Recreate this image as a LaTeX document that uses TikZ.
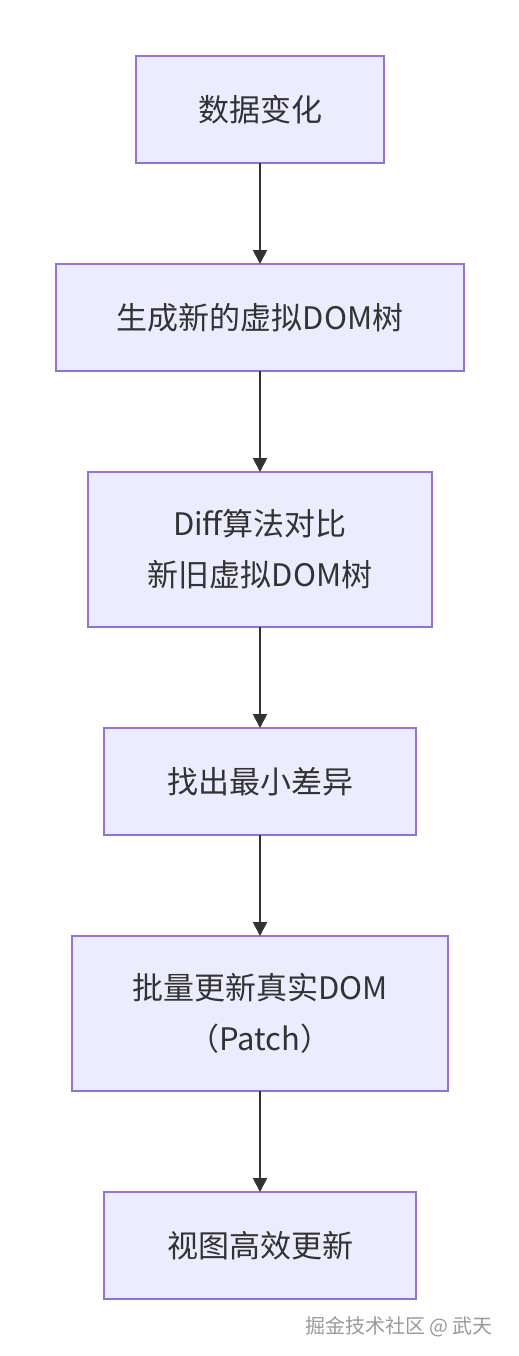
\documentclass[tikz,border=0pt]{standalone}
\usepackage{fontspec}
\setmainfont{Noto Sans CJK SC}
\usepackage{tikz}
\usetikzlibrary{positioning,arrows.meta}
\definecolor{boxFill}{HTML}{ECECFF}
\definecolor{boxLine}{HTML}{9370DB}
\definecolor{inkGray}{HTML}{333333}
\definecolor{markGray}{HTML}{9A9A9A}

\begin{document}
\begin{tikzpicture}[
                x=0.5pt, y=-0.5pt,
                node distance=50.5pt,
                flowbox/.style={fill=boxFill, draw=boxLine, line width=1pt,
                                minimum height=53.5pt, align=center, text=inkGray,
                                font=\fontsize{15.5pt}{25.5pt}\selectfont,
                                inner sep=0pt, outer sep=0pt},
                flowarrow/.style={draw=inkGray, line width=1pt,
                                  -{Triangle[length=7pt,width=7pt]}}
            ]
                \useasboundingbox[fill=white] (0,0) rectangle (519,1356);
                \node[flowbox, minimum width=124pt] (change) at (260,109.5) {数据变化};
                \node[flowbox, minimum width=204pt, below=of change] (newvdom) {生成新的虚拟DOM树};
                \node[flowbox, minimum width=172pt, minimum height=77.5pt, below=of newvdom] (diff) {Diff算法对比\\新旧虚拟DOM树};
                \node[flowbox, minimum width=156pt, below=of diff] (mindiff) {找出最小差异};
                \node[flowbox, minimum width=188pt, minimum height=77.5pt, below=of mindiff] (patch) {批量更新真实DOM\\（Patch）};
                \node[flowbox, minimum width=156pt, below=of patch] (view) {视图高效更新};
                \draw[flowarrow] (change) -- (newvdom);
                \draw[flowarrow] (newvdom) -- (diff);
                \draw[flowarrow] (diff) -- (mindiff);
                \draw[flowarrow] (mindiff) -- (patch);
                \draw[flowarrow] (patch) -- (view);
                \node[text=markGray, font=\fontsize{10pt}{12pt}\selectfont, anchor=east] (mark) at (500,1327) {掘金技术社区 @ 武天};
            \end{tikzpicture}
\end{document}
